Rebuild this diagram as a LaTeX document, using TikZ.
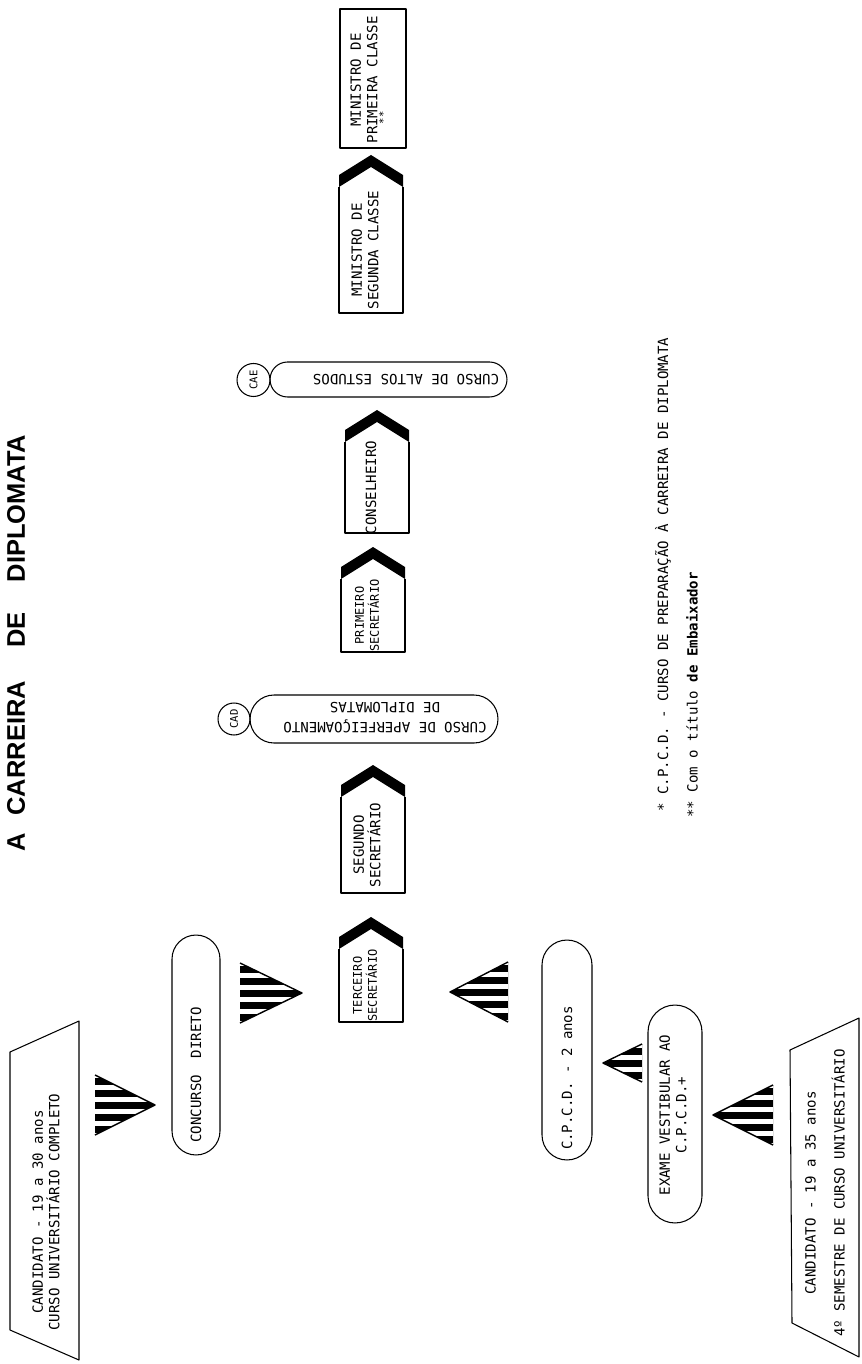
\documentclass[tikz,border=0pt]{standalone}
\usepackage{fontspec}
\setmainfont{Liberation Sans}
\setmonofont{DejaVu Sans Mono}
\usetikzlibrary{shapes.misc}

\newcommand{\boxfont}{\ttfamily\fontsize{8}{9.5}\selectfont}

% rank box with a black roof: [text options] name, centre x, apex y, bottom y, text
\newcommand{\rankhouse}[6][]{%
  \fill ({#3-32},{#4+20}) -- (#3,#4) -- ({#3+32},{#4+20}) -- ({#3+32},{#4+32}) -- (#3,{#4+12}) -- ({#3-32},{#4+32}) -- cycle;
  \draw ({#3-32},{#4+32}) -- ({#3-32},#5) -- ({#3+32},#5) -- ({#3+32},{#4+32});
  \node[lbl, #1] (#2) at ({#3-6},{(#4+32+#5)/2}) {#6};
}

% striped triangle: base x, centre y, half height, tip x
\newcommand{\stripearrow}[4]{%
  \fill (#1,{#2-#3}) -- (#4,#2) -- (#1,{#2+#3}) -- cycle;
  \begin{scope}
    \clip (#1,{#2-#3}) -- (#4,#2) -- (#1,{#2+#3}) -- cycle;
    \foreach \s in {-30,-18,-6,6,18,30}
      \fill[white] (#1,{#2+\s-2.5}) rectangle (#4,{#2+\s+2.5});
  \end{scope}
  \draw[line width=0.8pt] (#1,{#2-#3}) -- (#4,#2) -- (#1,{#2+#3});
}

\begin{document}
\begin{tikzpicture}[x=0.02cm, y=-0.02cm, line width=0.6pt, line join=round,
  lbl/.style={font=\boxfont, align=center, rotate=90, inner sep=1pt},
  lblflip/.style={font=\boxfont, align=center, rotate=180, inner sep=1pt},
  small/.style={font=\ttfamily\fontsize{6.8}{8.5}\selectfont},
  stadium/.style={draw, rounded rectangle, inner sep=0pt},
  tag/.style={draw, circle, inner sep=0pt, minimum size=0.64cm, rotate=90, font=\ttfamily\fontsize{6}{6}\selectfont},
  note/.style={font=\boxfont, rotate=90, anchor=west, inner sep=0pt}]
  \useasboundingbox (0,0) rectangle (861,1364);

  % title along the left margin
  \node[rotate=90, font=\bfseries\fontsize{14.5}{16}\selectfont] (title) at (16,643)
    {A\hspace{10pt}CARREIRA\hspace{19pt}DE\hspace{17pt}DIPLOMATA};

  % candidates
  \draw (10,1052) -- (79,1021) -- (79,1360) -- (10,1330) -- cycle;
  \node[lbl] (cand1) at (46,1212) {CANDIDATO - 19 a 30 anos\\CURSO UNIVERSITÁRIO COMPLETO};
  \draw (790,1050) -- (859,1018) -- (859,1357) -- (792,1323) -- cycle;
  \node[lbl] (cand2) at (825,1193) {CANDIDATO - 19 a 35 anos\\[7pt]4º SEMESTRE DE CURSO UNIVERSITÁRIO};

  % entry routes
  \node[stadium, rotate=90, minimum width=4.4cm, minimum height=0.96cm] (concurso) at (196,1045) {};
  \node[lbl] (concursotxt) at (196,1075) {CONCURSO\ \ DIRETO};
  \node[stadium, rotate=90, minimum width=4.4cm, minimum height=1cm] (cpcd) at (567,1050) {};
  \node[lbl] (cpcdtxt) at (567,1078) {C.P.C.D. - 2 anos};
  \node[stadium, rotate=90, minimum width=4.36cm, minimum height=1.08cm] (exame) at (675,1114) {};
  \node[lbl] (exametxt) at (673,1115) {EXAME VESTIBULAR AO\\C.P.C.D.+};

  % striped arrows
  \stripearrow{95}{1105}{30}{155}
  \stripearrow{240}{993}{30}{302}
  \stripearrow{508}{992}{30}{450}
  \stripearrow{642}{1063}{19}{603}
  \stripearrow{773}{1115}{30}{713}

  % ranks, bottom to top
  \rankhouse[small]{terceiro}{371}{917}{1022}{TERCEIRO\\SECRETÁRIO}
  \rankhouse{segundo}{373}{765}{893}{SEGUNDO\\SECRETÁRIO}
  \rankhouse[small]{primeiro}{373}{547}{652}{PRIMEIRO\\SECRETÁRIO}
  \rankhouse{conselheiro}{377}{410}{533}{CONSELHEIRO}
  \rankhouse{ministro2}{371}{155}{313}{MINISTRO DE\\SEGUNDA CLASSE}
  \draw (340,9) rectangle (406,148);
  \node[lbl] (ministro1) at (364,80) {MINISTRO DE\\PRIMEIRA CLASSE};
  \node[lbl, font=\ttfamily\fontsize{6}{6}\selectfont] (ministro1note) at (383,118) {**};

  % courses
  \node[stadium, minimum width=4.96cm, minimum height=0.96cm] (cad) at (374,719) {};
  \node[lblflip] (cadtxt) at (385,718) {CURSO DE APERFEIÇOAMENTO\\[2pt]DE DIPLOMATAS};
  \node[tag] (cadtag) at (234,719) {CAD};
  \node[stadium, minimum width=4.74cm, minimum height=0.7cm] (cae) at (388.5,379.5) {};
  \node[lblflip] (caetxt) at (406,380) {CURSO DE ALTOS ESTUDOS};
  \node[tag, minimum size=0.66cm] (caetag) at (253.5,380) {CAE};

  % footnotes
  \node[note] (fn1) at (663,812) {* C.P.C.D. - CURSO DE PREPARAÇÃO À CARREIRA DE DIPLOMATA};
  \node[note] (fn2) at (692,818) {** Com o título {\bfseries de Embaixador}};
\end{tikzpicture}
\end{document}
